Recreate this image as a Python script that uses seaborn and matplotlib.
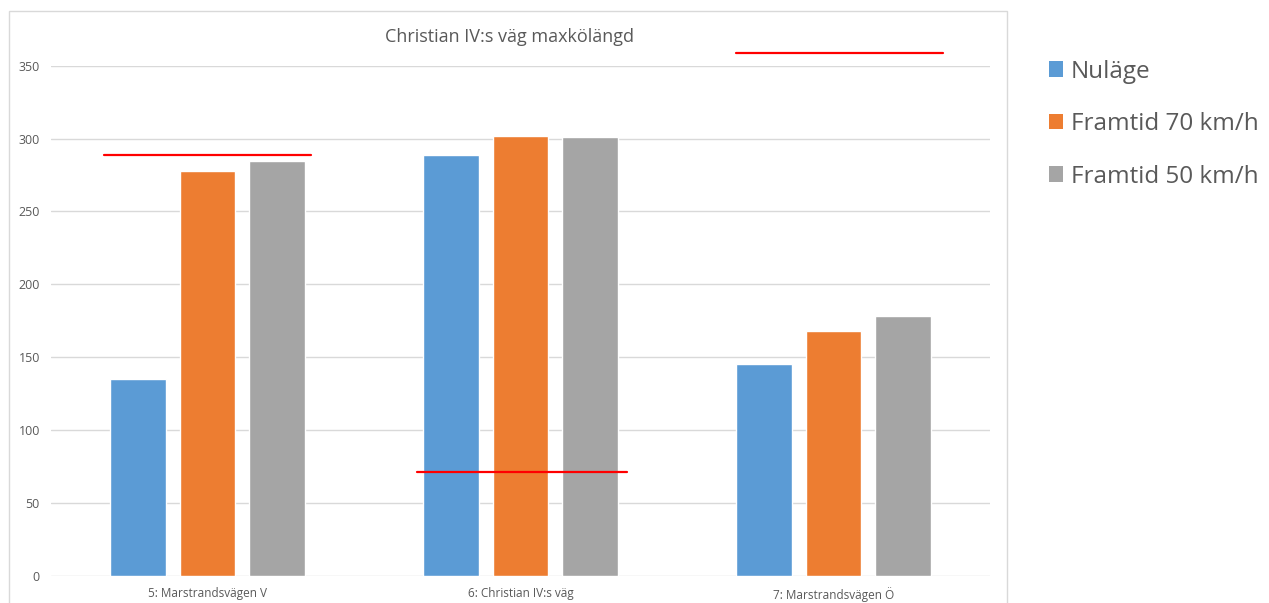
import matplotlib
matplotlib.use("Agg")
import matplotlib.pyplot as plt
from matplotlib.patches import Rectangle, Patch
import pandas as pd
import seaborn as sns

# Data
categories = ["5: Marstrandsvägen V", "6: Christian IV:s väg", "7: Marstrandsvägen Ö"]
series = ["Nuläge", "Framtid 70 km/h", "Framtid 50 km/h"]
nulage = [135, 289, 145]
framtid_70 = [278, 302, 168]
framtid_50 = [284.5, 301, 178]
colors = ["#5B9BD5", "#ED7D31", "#A5A5A5"]

# hand-drawn red marks (value, start, end in category units)
red_y = [289, 71, 359]
red_x0 = [-0.33, 1 - 0.33, 2 - 0.31]
red_x1 = [0.33, 1 + 0.34, 2 + 0.35]

df = pd.DataFrame({
    "kat": categories * 3,
    "serie": [s for s in series for _ in categories],
    "varde": nulage + framtid_70 + framtid_50,
})

sns.set_style("white")
plt.rcParams["font.family"] = ["Open Sans", "DejaVu Sans"]

W, H = 1269, 603
fig = plt.figure(figsize=(W / 100, H / 100), dpi=100)
ax = fig.add_axes([51 / W, 1 - 575.7 / H, (990 - 51) / W, (575.7 - 65.7) / H])

sns.barplot(data=df, x="kat", y="varde", hue="serie", hue_order=series,
            order=categories, palette=colors, width=0.667, gap=0.2,
            saturation=1, legend=False, ax=ax, zorder=3)

for y, x0, x1 in zip(red_y, red_x0, red_x1):
    ax.plot([x0, x1], [y, y], color="#FF0000", lw=1.6, clip_on=False, zorder=5)

ax.set_xlim(-0.5, 2.5)
ax.set_ylim(0, 350)
ax.set_yticks(range(0, 351, 50))
ax.yaxis.grid(True, color="#D9D9D9", lw=1)
ax.set_axisbelow(True)
for s in ax.spines.values():
    s.set_visible(False)
ax.tick_params(axis="y", length=0, labelsize=9, labelcolor="#595959", pad=8)
ax.tick_params(axis="x", length=0, labelsize=8.5, labelcolor="#595959", pad=8)
ax.set_xlabel("")
ax.set_ylabel("")

fig.text(509 / W, 1 - 37 / H, "Christian IV:s väg maxkölängd",
         ha="center", va="center", fontsize=13, color="#595959")

# chart frame
fig.patches.append(Rectangle((9 / W, -0.01), (1007 - 9) / W, 1 - 11 / H + 0.01,
                             transform=fig.transFigure, fill=False,
                             edgecolor="#D9D9D9", lw=1))

handles = [Patch(facecolor=c, edgecolor="none") for c in colors]
fig.legend(handles, series, loc="upper left", bbox_to_anchor=(1039 / W, 1 - 50 / H),
           frameon=False, fontsize=17.5, labelcolor="#595959",
           handlelength=0.6, handleheight=0.6, handletextpad=0.3,
           labelspacing=1.17, borderaxespad=0)

fig.savefig("out.png", dpi=100)
